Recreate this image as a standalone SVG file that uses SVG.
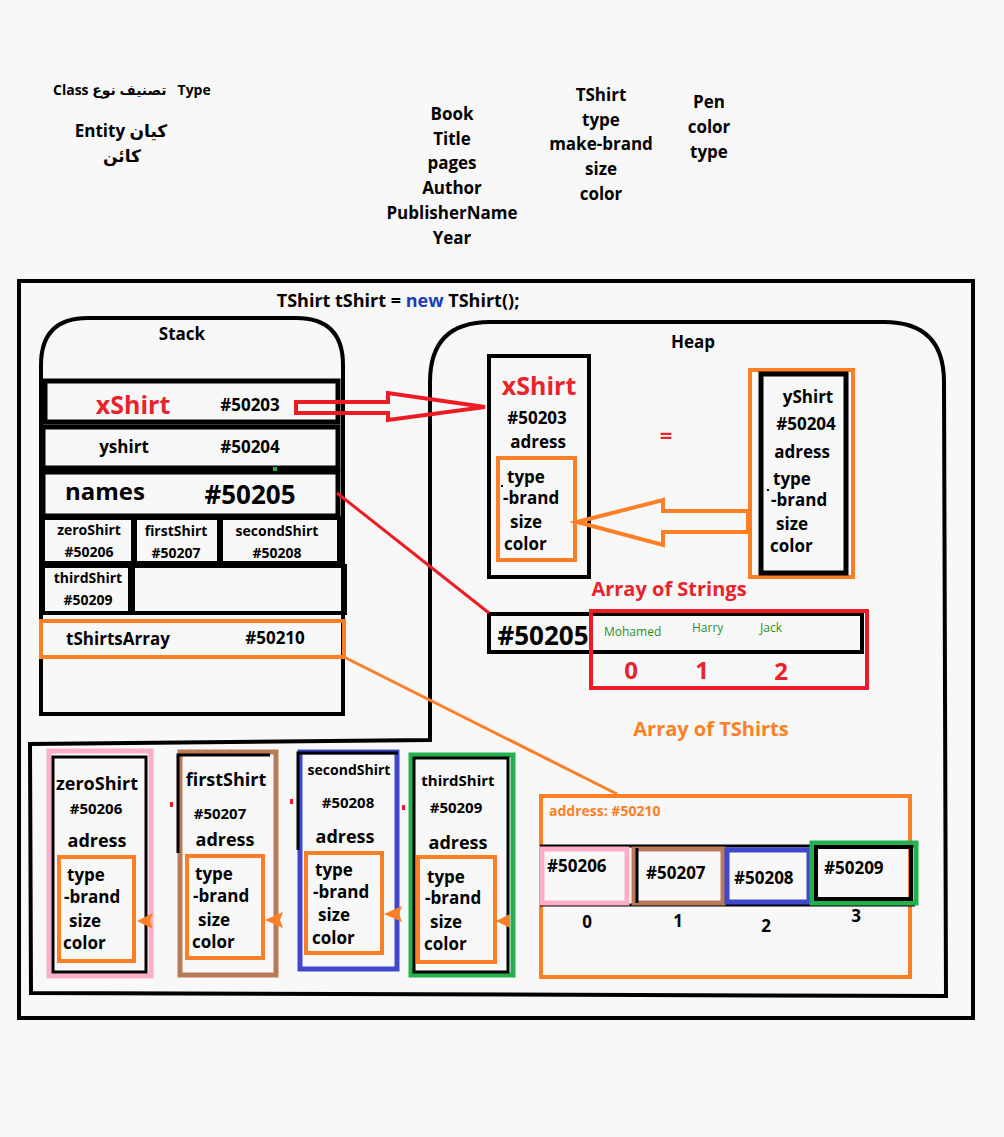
<svg xmlns="http://www.w3.org/2000/svg" width="1004" height="1137" viewBox="0 0 1004 1137">
<style>
.t{font-family:"Open Sans","DejaVu Sans",sans-serif;font-weight:700;fill:#000}
.c{text-anchor:middle}
.s14{font-size:14px}.s15{font-size:15px}.s17{font-size:17px}.s18{font-size:18px}.s24{font-size:24px}
.red{fill:#e8232b}.ora{fill:#ff7f27}.grn{fill:#2b8f2b;font-weight:400}
.bk{fill:none;stroke:#000;stroke-width:4}
.bk5{fill:none;stroke:#000;stroke-width:5}
.or{fill:none;stroke:#ff7f27;stroke-width:4}
.rd{fill:none;stroke:#ed1c24;stroke-width:4}
.pk{fill:none;stroke:#ffaec9;stroke-width:5}
.br{fill:none;stroke:#b97a57;stroke-width:5}
.bl{fill:none;stroke:#3f48cc;stroke-width:5}
.gr{fill:none;stroke:#22b14c;stroke-width:5}
.tip{fill:#ff7f27}
</style>
<rect width="1004" height="1137" fill="#f8f8f8"/>

<g id="notes">
<text class="t s14" x="53" y="95" xml:space="preserve" style="white-space:pre">Class تصنيف نوع   Type</text>
<text class="t s17 c" x="121" y="137">Entity كيان</text>
<text class="t s17 c" x="122" y="162">كائن</text>
<g class="t s17 c">
<text x="452" y="120">Book</text><text x="452" y="145">Title</text><text x="452" y="169">pages</text>
<text x="452" y="194">Author</text><text x="452" y="219">PublisherName</text><text x="452" y="244">Year</text>
<text x="601" y="101">TShirt</text><text x="601" y="126">type</text><text x="601" y="150">make-brand</text>
<text x="601" y="175">size</text><text x="601" y="200">color</text>
<text x="709" y="108">Pen</text><text x="709" y="133">color</text><text x="709" y="158">type</text>
</g>
</g>

<rect id="frame" x="19" y="281" width="954" height="737" class="bk"/>
<text class="t s18 c" x="398" y="307">TShirt tShirt = <tspan fill="#1c3fb0">new</tspan> TShirt();</text>

<g id="stack">
<path d="M41,714 L41,365 Q41,318 88,318 L296,318 Q343,318 343,365 L343,714 Z" class="bk"/>
<text class="t s17 c" x="182" y="340">Stack</text>
<rect x="45" y="381" width="293" height="41" class="bk5"/>
<rect x="43" y="427" width="295" height="41" class="bk5"/>
<rect x="43" y="472" width="295" height="44" class="bk5"/>
<rect x="43" y="518" width="90" height="45" class="bk"/>
<rect x="135" y="518" width="84" height="45" class="bk"/>
<rect x="221" y="518" width="118" height="45" class="bk"/>
<rect x="43" y="566" width="87" height="47" class="bk"/>
<rect x="133" y="566" width="212" height="47" class="bk"/>
<rect x="41" y="621" width="303" height="36" class="or"/>
<rect x="273" y="467" width="4" height="4" fill="#22b14c"/>
<text class="t c red" style="font-size:25px" x="133" y="414">xShirt</text>
<text class="t s17 c" x="250" y="411">#50203</text>
<text class="t s17 c" x="124" y="453">yshirt</text>
<text class="t s17 c" x="250" y="453">#50204</text>
<text class="t c" style="font-size:24px" x="105" y="500">names</text>
<text class="t c" style="font-size:26px" x="250" y="504">#50205</text>
<text class="t s14 c" x="89" y="535">zeroShirt</text>
<text class="t s14 c" x="89" y="557">#50206</text>
<text class="t s14 c" x="176" y="536">firstShirt</text>
<text class="t s14 c" x="176" y="558">#50207</text>
<text class="t s14 c" x="277" y="536">secondShirt</text>
<text class="t s14 c" x="277" y="558">#50208</text>
<text class="t s14 c" x="88" y="583">thirdShirt</text>
<text class="t s14 c" x="88" y="605">#50209</text>
<text class="t s17 c" x="118" y="645">tShirtsArray</text>
<text class="t s17 c" x="275" y="644">#50210</text>
</g>

<g id="heap">
<path d="M430,740 L30,744 L31,993 L946,996 L944,382 Q944,322 884,322 L490,322 Q430,322 430,382 Z" class="bk"/>
<text class="t s17 c" x="693" y="348">Heap</text>
</g>

<g id="heap-xShirt">
<rect x="489" y="356" width="100" height="221" class="bk"/>
<rect x="498" y="458" width="77" height="102" class="or"/>
<text class="t c red" style="font-size:25px" x="539" y="395">xShirt</text>
<text class="t s17 c" x="537" y="424">#50203</text>
<text class="t s17 c" x="538" y="448">adress</text>
<rect x="501" y="485" width="2" height="2" fill="#000"/>
<text class="t s17" x="507" y="483">type</text>
<text class="t s17" x="503" y="504">-brand</text>
<text class="t s17" x="510" y="528">size</text>
<text class="t s17" x="504" y="550">color</text>
</g>

<g id="heap-yShirt">
<rect x="750" y="370" width="103" height="207" class="or"/>
<rect x="761" y="374" width="85" height="199" class="bk5"/>
<text class="t s17 c" x="808" y="403">yShirt</text>
<text class="t s17 c" x="806" y="430">#50204</text>
<text class="t s17 c" x="802" y="458">adress</text>
<rect x="767" y="489" width="2" height="2" fill="#000"/>
<text class="t s17" x="773" y="485">type</text>
<text class="t s17" x="771" y="506">-brand</text>
<text class="t s17" x="776" y="530">size</text>
<text class="t s17" x="770" y="552">color</text>
</g>
<text class="t c red" style="font-size:22px" x="666" y="443">=</text>

<g id="strings-array">
<text class="t c red" style="font-size:20px" x="669" y="596">Array of Strings</text>
<rect x="489" y="614" width="373" height="38" class="bk"/>
<rect x="591" y="611" width="276" height="77" class="rd"/>
<text class="t c" style="font-size:26px" x="543" y="645">#50205</text>
<text class="t grn" style="font-size:12px" x="604" y="636">Mohamed</text>
<text class="t grn" style="font-size:12px" x="692" y="632">Harry</text>
<text class="t grn" style="font-size:12px" x="760" y="632">Jack</text>
<text class="t s24 c red" x="631" y="679">0</text>
<text class="t s24 c red" x="702" y="679">1</text>
<text class="t s24 c red" x="781" y="680">2</text>
</g>

<g id="tshirts-array">
<text class="t c ora" style="font-size:20px" x="711" y="736">Array of TShirts</text>
<rect x="541" y="796" width="369" height="181" class="or"/>
<text class="t s14 ora" x="549" y="816">address: #50210</text>
<line x1="540" y1="846" x2="915" y2="846" stroke="#000" stroke-width="3"/>
<line x1="540" y1="905" x2="915" y2="905" stroke="#000" stroke-width="3"/>
<rect x="542" y="849" width="85" height="54" class="pk"/>
<rect x="634" y="849" width="89" height="54" class="br"/>
<line x1="637" y1="848" x2="637" y2="903" stroke="#000" stroke-width="3"/>
<rect x="727" y="850" width="82" height="52" class="bl"/>
<rect x="812" y="843" width="104" height="60" class="gr"/>
<rect x="816" y="847" width="95" height="52" class="bk"/>
<text class="t s17" x="547" y="872">#50206</text>
<text class="t s17" x="646" y="879">#50207</text>
<text class="t s17" x="734" y="884">#50208</text>
<text class="t s17" x="824" y="874">#50209</text>
<text class="t s17 c" x="587" y="928">0</text>
<text class="t s17 c" x="678" y="927">1</text>
<text class="t s17 c" x="766" y="932">2</text>
<text class="t s17 c" x="856" y="922">3</text>
</g>

<g id="zeroShirt">
<rect x="49" y="751" width="102" height="225" class="pk"/>
<rect x="53" y="757" width="93" height="215" fill="none" stroke="#000" stroke-width="3"/>
<rect x="59" y="857" width="75" height="104" class="or"/>
<text class="t s18 c" x="97" y="790">zeroShirt</text>
<text class="t s15 c" x="96" y="814">#50206</text>
<text class="t s18 c" x="97" y="847">adress</text>
<text class="t s17" x="67" y="881">type</text>
<text class="t s17" x="64" y="903">-brand</text>
<text class="t s17" x="69" y="927">size</text>
<text class="t s17" x="63" y="949">color</text>
</g>

<g id="firstShirt">
<rect x="180" y="752" width="96" height="223" class="br"/>
<path d="M178,853 L178,755 L270,755" fill="none" stroke="#000" stroke-width="3"/>
<rect x="187" y="856" width="76" height="102" class="or"/>
<text class="t s18 c" x="226" y="786">firstShirt</text>
<text class="t s15 c" x="220" y="819">#50207</text>
<text class="t s18 c" x="225" y="846">adress</text>
<text class="t s17" x="195" y="880">type</text>
<text class="t s17" x="193" y="902">-brand</text>
<text class="t s17" x="198" y="926">size</text>
<text class="t s17" x="192" y="948">color</text>
</g>

<g id="secondShirt">
<rect x="300" y="752" width="97" height="217" class="bl"/>
<path d="M298,850 L298,753 L398,753" fill="none" stroke="#000" stroke-width="3"/>
<rect x="306" y="853" width="76" height="100" class="or"/>
<text class="t s14 c" x="349" y="775">secondShirt</text>
<text class="t s15 c" x="348" y="808">#50208</text>
<text class="t s18 c" x="345" y="843">adress</text>
<text class="t s17" x="315" y="876">type</text>
<text class="t s17" x="313" y="898">-brand</text>
<text class="t s17" x="318" y="921">size</text>
<text class="t s17" x="312" y="944">color</text>
</g>

<g id="thirdShirt">
<rect x="411" y="755" width="102" height="220" class="gr"/>
<rect x="414" y="758" width="94" height="214" fill="none" stroke="#000" stroke-width="3"/>
<rect x="418" y="857" width="77" height="105" class="or"/>
<text class="t s15 c" x="458" y="786">thirdShirt</text>
<text class="t s15 c" x="456" y="813">#50209</text>
<text class="t s18 c" x="458" y="849">adress</text>
<text class="t s17" x="427" y="883">type</text>
<text class="t s17" x="425" y="904">-brand</text>
<text class="t s17" x="430" y="928">size</text>
<text class="t s17" x="424" y="950">color</text>
</g>

<g id="connectors">
<polygon points="296,402 388,402 388,393 485,407 388,420 388,413 296,413" class="rd"/>
<polygon points="577,522 663,500 663,511 748,511 748,532 663,532 663,545" class="or"/>
<line x1="337" y1="493" x2="489" y2="613" stroke="#ed1c24" stroke-width="3"/>
<line x1="344" y1="657" x2="617" y2="794" stroke="#ff7f27" stroke-width="3"/>
<polygon class="tip" points="137,921 153,913 150,921 153,929"/>
<polygon class="tip" points="265,920 283,912 280,920 283,928"/>
<polygon class="tip" points="384,914 402,906 399,914 402,922"/>
<polygon class="tip" points="496,921 510,914 510,928"/>
<rect x="170" y="802" width="3" height="5" fill="#ed1c24"/>
<rect x="290" y="799" width="3" height="5" fill="#ed1c24"/>
<rect x="402" y="805" width="3" height="5" fill="#ed1c24"/>
</g>
</svg>
